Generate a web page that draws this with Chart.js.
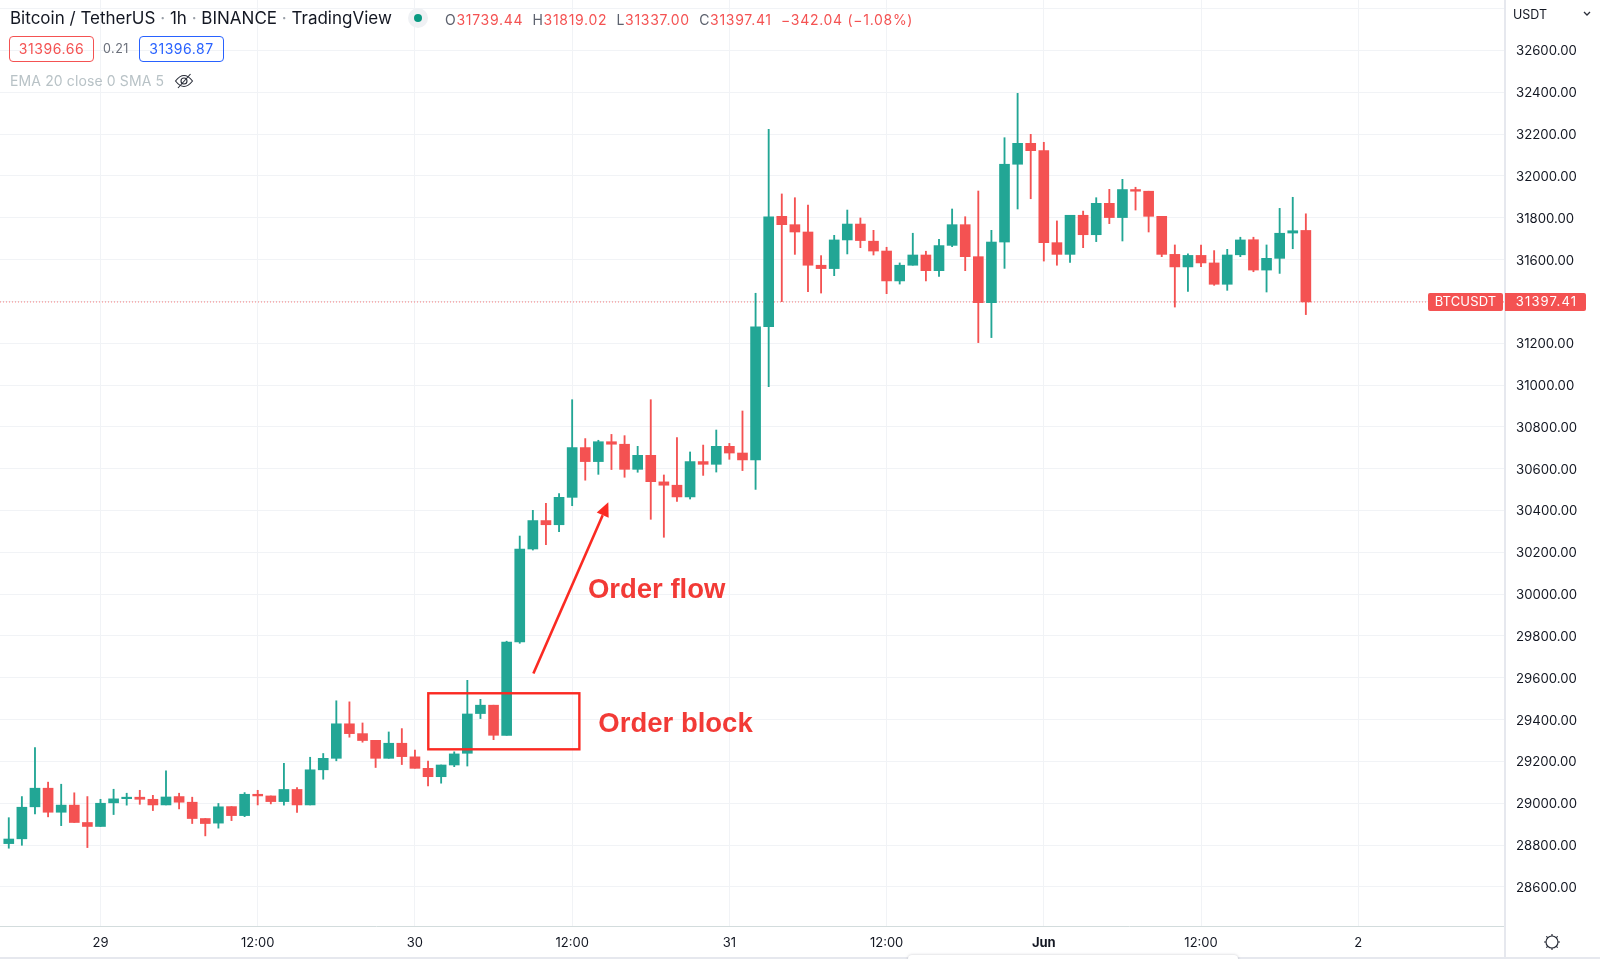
<!DOCTYPE html>
<html>
<head>
<meta charset="utf-8">
<title>BTCUSDT order block</title>
<script src="https://cdn.jsdelivr.net/npm/chart.js@4"></script>
<style>
  html, body { margin: 0; padding: 0; background: #fff; }
  #wrap { position: relative; width: 1600px; height: 959px; overflow: hidden; font-family: Inter, "Noto Sans", sans-serif; color: #131722; }
  canvas { position: absolute; left: 0; top: 0; }
  .txt { position: absolute; white-space: nowrap; }
  .box { position: absolute; top: 36px; width: 83px; height: 24px; line-height: 24px; border: 1px solid; border-radius: 4px; text-align: center; font-size: 14px; letter-spacing: 0.55px; }
  .red { color: #f45252; }
  .key { color: #5d626e; }
</style>
</head>
<body>
<div id="wrap">
  <canvas id="chart" width="1600" height="959"></canvas>

  <div class="txt" style="left:10px;top:8px;font-size:17px;line-height:21px;">Bitcoin / TetherUS <span style="color:#9aa0a8">·</span> 1h <span style="color:#9aa0a8">·</span> BINANCE <span style="color:#9aa0a8">·</span> TradingView</div>
  <div style="position:absolute;left:408px;top:8px;width:20px;height:20px;border-radius:50%;background:#eff1f4;"></div>
  <div style="position:absolute;left:414px;top:14px;width:8px;height:8px;border-radius:50%;background:#089981;"></div>
  <div class="txt" style="left:445px;top:11px;font-size:14px;line-height:18px;letter-spacing:0.7px;">
    <span class="key">O</span><span class="red">31739.44</span>
    <span class="key">&nbsp;H</span><span class="red">31819.02</span>
    <span class="key">&nbsp;L</span><span class="red">31337.00</span>
    <span class="key">&nbsp;C</span><span class="red">31397.41</span>
    <span class="red">&nbsp;−342.04 (−1.08%)</span>
  </div>

  <div class="box" style="left:9px;color:#f45252;border-color:#f45252;">31396.66</div>
  <div class="txt" style="left:103px;top:41px;font-size:12.5px;line-height:16px;color:#6a6f7a;letter-spacing:0.5px;">0.21</div>
  <div class="box" style="left:139px;color:#2962ff;border-color:#2962ff;">31396.87</div>

  <div class="txt" style="left:10px;top:72px;font-size:14px;line-height:18px;color:#b8c2c6;letter-spacing:0.12px;">EMA 20 close 0 SMA 5</div>
  <svg style="position:absolute;left:174px;top:72px" width="20" height="18" viewBox="0 0 20 18" fill="none" stroke="#2a2e39" stroke-width="1.1">
    <path d="M1.5 9 C5 4.5 8 3.5 10 3.5 C12 3.5 15 4.5 18.5 9 C15 13.5 12 14.5 10 14.5 C8 14.5 5 13.5 1.5 9 Z"/>
    <circle cx="10" cy="9" r="3"/>
    <path d="M4 16 L16.5 2"/>
  </svg>

  <div class="txt" style="left:1513px;top:7px;font-size:12.5px;line-height:16px;">USDT</div>
  <svg style="position:absolute;left:1583px;top:11px" width="8" height="6" viewBox="0 0 8 6" fill="none" stroke="#2a2e39" stroke-width="1.3"><path d="M1 1 L4 4 L7 1"/></svg>

  <div style="position:absolute;left:1504px;top:926px;width:2px;height:31px;background:#e6e8ee;"></div>
  <div style="position:absolute;left:0;top:957px;width:1600px;height:2px;background:#e6e8ee;"></div>
  <div style="position:absolute;left:908px;top:955px;width:330px;height:8px;border-radius:4px 4px 0 0;background:#fff;box-shadow:0 0 3px rgba(120,123,134,0.4);"></div>
  <svg style="position:absolute;left:1542px;top:932px" width="20" height="20" viewBox="0 0 20 20" fill="none" stroke="#2a2e39" stroke-width="1.2">
    <circle cx="10" cy="10" r="6"/>
    <path d="M10 2 V4 M10 16 V18 M2 10 H4 M16 10 H18 M4.3 4.3 L5.7 5.7 M14.3 14.3 L15.7 15.7 M4.3 15.7 L5.7 14.3 M14.3 5.7 L15.7 4.3"/>
  </svg>
</div>

<script>
// 1h candles, hour 0 is 29 May 00:00, first visible one is 7 hours before it
const firstHour = -7;

const opens = [
  28807, 28830, 28983, 29072, 28957, 28991, 28908, 28889, 29002, 29022,
  29029, 29019, 28992, 29032, 29005, 28927, 28905, 28984, 28941, 29043,
  29035, 29008, 29066, 28992, 29160, 29215, 29380, 29333, 29301, 29215,
  29287, 29222, 29167, 29127, 29183, 29239, 29429, 29469, 29325, 29771,
  30216, 30352, 30332, 30463, 30701, 30634, 30729, 30717, 30597, 30664,
  30537, 30521, 30465, 30634, 30621, 30707, 30675, 30642, 31279, 31807,
  31767, 31732, 31573, 31557, 31694, 31770, 31688, 31641, 31498, 31573,
  31622, 31547, 31668, 31767, 31614, 31394, 31684, 32056, 32156, 32121,
  31681, 31625, 31812, 31719, 31869, 31801, 31935, 31927, 31807, 31625,
  31565, 31620, 31584, 31482, 31623, 31695, 31550, 31606, 31727, 31739.44
];
const highs = [
  28931, 29032, 29266, 29101, 29091, 29050, 29032, 29019, 29067, 29048,
  29062, 29038, 29155, 29048, 29029, 28927, 28999, 28984, 29051, 29062,
  29035, 29191, 29075, 29220, 29238, 29490, 29485, 29384, 29301, 29341,
  29357, 29254, 29202, 29183, 29246, 29588, 29497, 29469, 29775, 30278,
  30401, 30434, 30481, 30930, 30744, 30736, 30764, 30758, 30707, 30930,
  30570, 30749, 30680, 30713, 30785, 30721, 30876, 31439, 32223, 31914,
  31896, 31861, 31619, 31716, 31837, 31799, 31740, 31659, 31584, 31726,
  31640, 31697, 31842, 31805, 31928, 31740, 32183, 32395, 32199, 32161,
  31785, 31812, 31832, 31896, 31936, 31984, 31946, 31927, 31807, 31670,
  31627, 31670, 31643, 31649, 31707, 31707, 31670, 31845, 31898, 31819.02
];
const lows = [
  28785, 28799, 28949, 28935, 28893, 28908, 28788, 28889, 28946, 28991,
  28995, 28965, 28992, 28973, 28903, 28844, 28881, 28917, 28936, 28992,
  28997, 28991, 28956, 28992, 29115, 29203, 29316, 29292, 29171, 29215,
  29185, 29168, 29083, 29096, 29175, 29178, 29405, 29304, 29325, 29765,
  30211, 30237, 30299, 30423, 30545, 30573, 30596, 30559, 30583, 30358,
  30272, 30444, 30455, 30568, 30584, 30645, 30591, 30501, 30992, 31399,
  31625, 31447, 31440, 31523, 31627, 31657, 31622, 31437, 31483, 31573,
  31498, 31519, 31662, 31547, 31203, 31227, 31558, 31842, 31891, 31593,
  31573, 31587, 31657, 31686, 31772, 31689, 31837, 31732, 31614, 31373,
  31448, 31566, 31477, 31453, 31614, 31542, 31445, 31534, 31652, 31337
];
const closes = [
  28829, 28981, 29072, 28957, 28991, 28908, 28889, 29000, 29021, 29029,
  29019, 28992, 29030, 29005, 28927, 28903, 28983, 28941, 29043, 29035,
  29008, 29066, 28992, 29160, 29215, 29380, 29333, 29300, 29215, 29287,
  29223, 29167, 29127, 29183, 29236, 29427, 29469, 29325, 29771, 30216,
  30352, 30332, 30463, 30701, 30634, 30729, 30717, 30597, 30664, 30538,
  30521, 30465, 30634, 30621, 30707, 30675, 30642, 31278, 31805, 31767,
  31732, 31573, 31557, 31694, 31770, 31691, 31641, 31498, 31573, 31622,
  31547, 31667, 31767, 31614, 31394, 31684, 32056, 32156, 32121, 31681,
  31625, 31812, 31719, 31869, 31801, 31935, 31927, 31807, 31625, 31565,
  31620, 31584, 31482, 31622, 31694, 31550, 31606, 31726, 31738, 31397.41
];

const timeTickHours = [0, 12, 24, 36, 48, 60, 72, 84, 96];
const timeTickLabels = ["29", "12:00", "30", "12:00", "31", "12:00", "Jun", "12:00", "2"];
const priceTicks = [28600, 28800, 29000, 29200, 29400, 29600, 29800, 30000, 30200, 30400, 30600, 30800, 31000, 31200, 31400, 31600, 31800, 32000, 32200, 32400, 32600, 32800];
const unlabelledPrices = [32800];

const lastPrice = 31397.41;
const lastPriceName = "BTCUSDT";

// annotations drawn by hand on the original, in hour / price units
const orderBlockHours = [25.02, 36.55];
const orderBlockPrices = [29258, 29526];
const arrowFrom = [33.04, 29621];
const arrowTo = [38.76, 30439];
const orderFlowAt = [37.2, 29980];
const orderBlockAt = [38.0, 29343];

const GREEN = "#22a695";
const RED = "#f45252";
const MARK = "#fb2a22";

const xMin = -7.67;
const xMax = 107.2;

const candleColors = closes.map((c, i) => c >= opens[i] ? GREEN : RED);
const bodies = closes.map((c, i) => ({ x: firstHour + i, y: [opens[i], c] }));
const wicks = closes.map((c, i) => ({ x: firstHour + i, y: [lows[i], highs[i]] }));

const annotations = {
  id: "annotations",
  afterDatasetsDraw(chart) {
    const { ctx, scales: { x, y } } = chart;
    ctx.save();
    ctx.strokeStyle = MARK;
    ctx.fillStyle = MARK;

    // order block box
    const left = x.getPixelForValue(orderBlockHours[0]);
    const right = x.getPixelForValue(orderBlockHours[1]);
    const top = y.getPixelForValue(orderBlockPrices[1]);
    const bottom = y.getPixelForValue(orderBlockPrices[0]);
    ctx.lineWidth = 2.4;
    ctx.strokeRect(left, top, right - left, bottom - top);

    // order flow arrow
    const ax = x.getPixelForValue(arrowFrom[0]);
    const ay = y.getPixelForValue(arrowFrom[1]);
    const bx = x.getPixelForValue(arrowTo[0]);
    const by = y.getPixelForValue(arrowTo[1]);
    const angle = Math.atan2(by - ay, bx - ax);
    const headLen = 14;
    const neckX = bx - Math.cos(angle) * headLen;
    const neckY = by - Math.sin(angle) * headLen;
    ctx.lineWidth = 2.6;
    ctx.beginPath();
    ctx.moveTo(ax, ay);
    ctx.lineTo(neckX, neckY);
    ctx.stroke();
    ctx.beginPath();
    ctx.moveTo(bx, by);
    ctx.lineTo(neckX + Math.sin(angle) * 6.5, neckY - Math.cos(angle) * 6.5);
    ctx.lineTo(neckX - Math.sin(angle) * 6.5, neckY + Math.cos(angle) * 6.5);
    ctx.closePath();
    ctx.fill();

    ctx.fillStyle = "#f23a36";
    ctx.font = "bold 27.5px 'Liberation Sans', Arial, sans-serif";
    ctx.textAlign = "left";
    ctx.textBaseline = "alphabetic";
    ctx.fillText("Order flow", x.getPixelForValue(orderFlowAt[0]), y.getPixelForValue(orderFlowAt[1]));
    ctx.fillText("Order block", x.getPixelForValue(orderBlockAt[0]), y.getPixelForValue(orderBlockAt[1]));
    ctx.restore();
  }
};

const lastPriceTag = {
  id: "lastPriceTag",
  afterDraw(chart) {
    const { ctx, scales: { y }, chartArea } = chart;
    const py = y.getPixelForValue(lastPrice);
    ctx.save();
    ctx.fillStyle = RED;
    ctx.beginPath();
    ctx.roundRect(chartArea.right - 77, py - 9, 75, 18, 2);
    ctx.fill();
    ctx.beginPath();
    ctx.roundRect(chartArea.right, py - 9, 81, 18, [0, 2, 2, 0]);
    ctx.fill();
    ctx.fillStyle = "#fff";
    ctx.font = "13px Inter, 'Noto Sans', sans-serif";
    ctx.textAlign = "center";
    ctx.textBaseline = "middle";
    ctx.letterSpacing = "0.15px";
    ctx.fillText(lastPriceName, chartArea.right - 39.5, py + 0.5);
    ctx.letterSpacing = "1.2px";
    ctx.fillText(lastPrice.toFixed(2), chartArea.right + 41.5, py + 0.5);
    ctx.restore();
  }
};

// no margin for half labels at the ends, the plot has to fill the canvas
function noScalePadding(scale) {
  scale.paddingTop = 0;
  scale.paddingBottom = 0;
  scale.paddingLeft = 0;
  scale.paddingRight = 0;
}

new Chart(document.getElementById("chart"), {
  data: {
    datasets: [
      {
        type: "line",
        data: [{ x: xMin, y: lastPrice }, { x: xMax, y: lastPrice }],
        borderColor: "rgba(244,82,82,0.75)",
        borderWidth: 1,
        borderDash: [1, 2],
        pointRadius: 0,
        order: 3
      },
      {
        type: "bar",
        data: wicks,
        backgroundColor: candleColors,
        barThickness: 1.2,
        grouped: false,
        order: 2
      },
      {
        type: "bar",
        data: bodies,
        backgroundColor: candleColors,
        barThickness: 10,
        grouped: false,
        order: 1
      }
    ]
  },
  options: {
    responsive: false,
    animation: false,
    devicePixelRatio: 1,
    layout: { padding: 0 },
    plugins: { legend: { display: false }, tooltip: { enabled: false } },
    scales: {
      x: {
        type: "linear",
        position: "bottom",
        offset: false,
        min: xMin,
        max: xMax,
        afterBuildTicks(scale) { scale.ticks = timeTickHours.map(value => ({ value })); },
        afterFit(scale) { scale.height = 33; noScalePadding(scale); },
        grid: { color: "#f1f3f6", drawTicks: false, offset: false },
        border: { color: "#d3dcdd", width: 1 },
        ticks: {
          padding: 9,
          autoSkip: false,
          maxRotation: 0,
          color: "#131722",
          callback: value => timeTickLabels[timeTickHours.indexOf(value)],
          font: ctx => ({
            family: "Inter, 'Noto Sans', sans-serif",
            size: 13,
            weight: ctx.tick && ctx.tick.value === 72 ? "bold" : "normal"
          })
        }
      },
      y: {
        type: "linear",
        position: "right",
        min: 28413,
        max: 32841.5,
        afterBuildTicks(scale) { scale.ticks = priceTicks.map(value => ({ value })); },
        afterFit(scale) { scale.width = 95; noScalePadding(scale); },
        grid: { color: "#f1f3f6", drawTicks: false },
        border: { color: "#e6e8ee", width: 2 },
        ticks: {
          padding: 11,
          labelOffset: 1,
          autoSkip: false,
          color: "#131722",
          font: { family: "Inter, 'Noto Sans', sans-serif", size: 13.2 },
          callback: value => unlabelledPrices.includes(value) ? "" : value.toFixed(2)
        }
      }
    }
  },
  plugins: [annotations, lastPriceTag]
});
</script>
</body>
</html>
